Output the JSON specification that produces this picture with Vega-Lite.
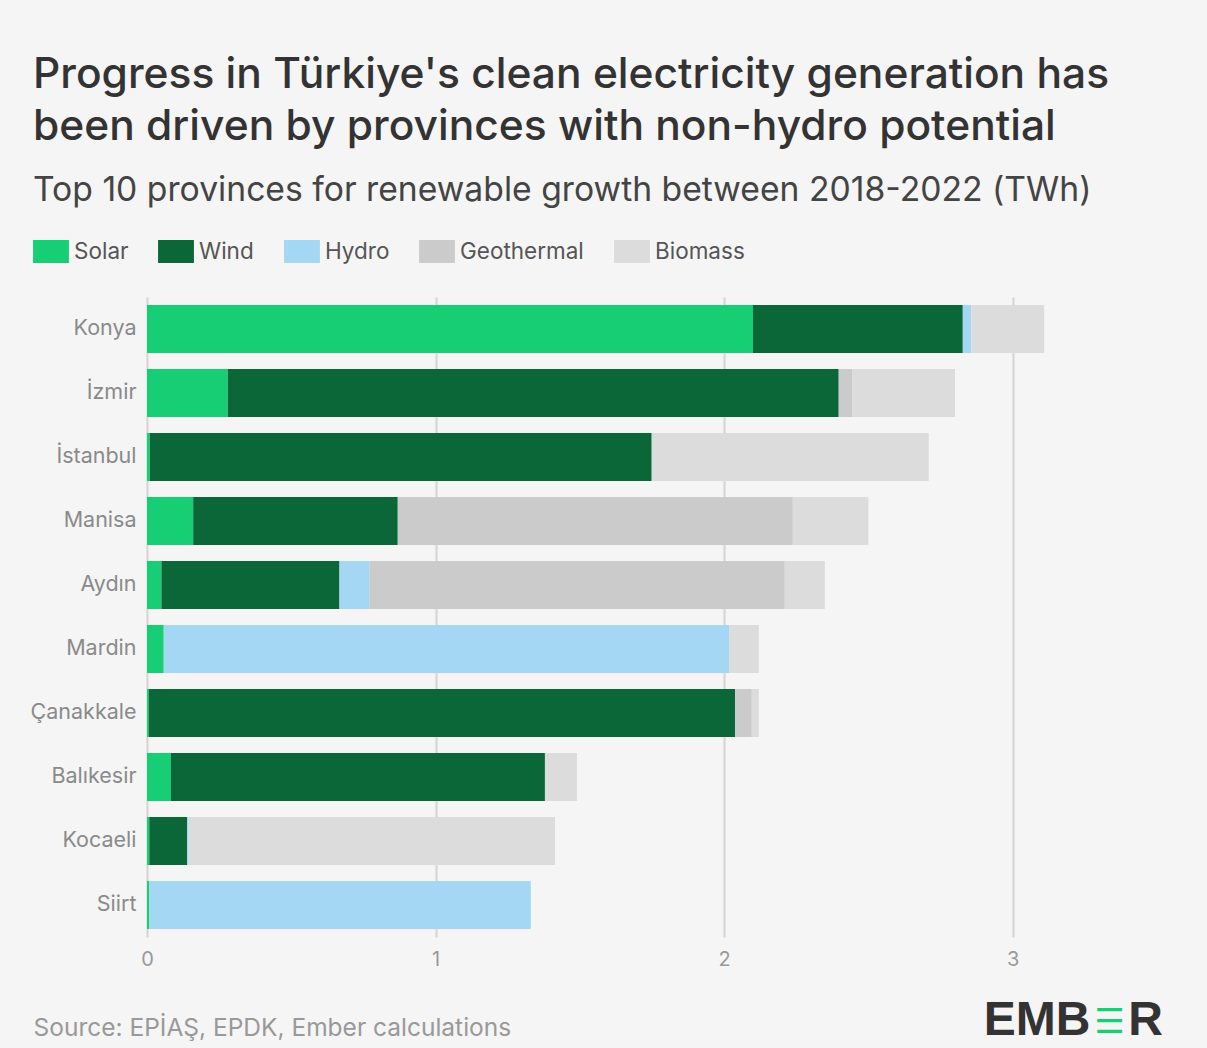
{
  "$schema": "https://vega.github.io/schema/vega-lite/v6.json",
  "width": 1010,
  "height": 640,
  "autosize": {"type": "none"},
  "padding": {"left": 147, "top": 297, "right": 50, "bottom": 111},
  "background": "#f5f5f5",
  "config": {"font": "Inter", "view": {"stroke": null}},
  "title": {
    "text": ["Progress in Türkiye's clean electricity generation has", "been driven by provinces with non-hydro potential"],
    "subtitle": "Top 10 provinces for renewable growth between 2018-2022 (TWh)",
    "anchor": "start",
    "frame": "group",
    "dx": -114,
    "offset": 32,
    "fontSize": 42.5,
    "fontWeight": 500,
    "color": "#333333",
    "lineHeight": 52,
    "subtitleFontSize": 33.7,
    "subtitleColor": "#444444",
    "subtitleFontWeight": 400,
    "subtitlePadding": 26
  },
  "data": {
    "values": [
      {"province": "Konya", "source": "Solar", "k": 1, "twh": 2.10},
      {"province": "Konya", "source": "Wind", "k": 2, "twh": 0.727},
      {"province": "Konya", "source": "Hydro", "k": 3, "twh": 0.029},
      {"province": "Konya", "source": "Biomass", "k": 5, "twh": 0.253},
      {"province": "İzmir", "source": "Solar", "k": 1, "twh": 0.28},
      {"province": "İzmir", "source": "Wind", "k": 2, "twh": 2.117},
      {"province": "İzmir", "source": "Geothermal", "k": 4, "twh": 0.048},
      {"province": "İzmir", "source": "Biomass", "k": 5, "twh": 0.355},
      {"province": "İstanbul", "source": "Solar", "k": 1, "twh": 0.01},
      {"province": "İstanbul", "source": "Wind", "k": 2, "twh": 1.739},
      {"province": "İstanbul", "source": "Biomass", "k": 5, "twh": 0.96},
      {"province": "Manisa", "source": "Solar", "k": 1, "twh": 0.16},
      {"province": "Manisa", "source": "Wind", "k": 2, "twh": 0.709},
      {"province": "Manisa", "source": "Geothermal", "k": 4, "twh": 1.369},
      {"province": "Manisa", "source": "Biomass", "k": 5, "twh": 0.262},
      {"province": "Aydın", "source": "Solar", "k": 1, "twh": 0.05},
      {"province": "Aydın", "source": "Wind", "k": 2, "twh": 0.617},
      {"province": "Aydın", "source": "Hydro", "k": 3, "twh": 0.103},
      {"province": "Aydın", "source": "Geothermal", "k": 4, "twh": 1.44},
      {"province": "Aydın", "source": "Biomass", "k": 5, "twh": 0.139},
      {"province": "Mardin", "source": "Solar", "k": 1, "twh": 0.058},
      {"province": "Mardin", "source": "Hydro", "k": 3, "twh": 1.959},
      {"province": "Mardin", "source": "Biomass", "k": 5, "twh": 0.103},
      {"province": "Çanakkale", "source": "Solar", "k": 1, "twh": 0.006},
      {"province": "Çanakkale", "source": "Wind", "k": 2, "twh": 2.032},
      {"province": "Çanakkale", "source": "Geothermal", "k": 4, "twh": 0.058},
      {"province": "Çanakkale", "source": "Biomass", "k": 5, "twh": 0.024},
      {"province": "Balıkesir", "source": "Solar", "k": 1, "twh": 0.083},
      {"province": "Balıkesir", "source": "Wind", "k": 2, "twh": 1.296},
      {"province": "Balıkesir", "source": "Biomass", "k": 5, "twh": 0.111},
      {"province": "Kocaeli", "source": "Solar", "k": 1, "twh": 0.008},
      {"province": "Kocaeli", "source": "Wind", "k": 2, "twh": 0.131},
      {"province": "Kocaeli", "source": "Hydro", "k": 3, "twh": 0.005},
      {"province": "Kocaeli", "source": "Biomass", "k": 5, "twh": 1.27},
      {"province": "Siirt", "source": "Solar", "k": 1, "twh": 0.008},
      {"province": "Siirt", "source": "Hydro", "k": 3, "twh": 1.322}
    ]
  },
  "layer": [
    {
      "mark": {"type": "bar"},
      "encoding": {
        "y": {
          "field": "province",
          "type": "nominal",
          "sort": ["Konya", "İzmir", "İstanbul", "Manisa", "Aydın", "Mardin", "Çanakkale", "Balıkesir", "Kocaeli", "Siirt"],
          "scale": {"paddingInner": 0.25, "paddingOuter": 0.125},
          "axis": {
            "title": null,
            "ticks": false,
            "domain": false,
            "labelColor": "#8a8a8a",
            "labelFontSize": 21.5,
            "labelPadding": 11
          }
        },
        "x": {
          "field": "twh",
          "type": "quantitative",
          "stack": "zero",
          "scale": {"domain": [0, 3.5], "nice": false},
          "axis": {
            "values": [0, 1, 2, 3],
            "format": "d",
            "labelFlush": false,
            "grid": true,
            "gridColor": "#d4d4d4",
            "gridWidth": 2,
            "ticks": false,
            "domain": false,
            "labelColor": "#999999",
            "labelFontSize": 20,
            "labelPadding": 12,
            "title": "Source: EPİAŞ, EPDK, Ember calculations",
            "titleAnchor": "start",
            "titleAlign": "left",
            "titleBaseline": "alphabetic",
            "titleX": -114,
            "titleY": 98,
            "titleFontSize": 24.5,
            "titleFontWeight": 400,
            "titleColor": "#999999"
          }
        },
        "color": {
          "field": "source",
          "type": "nominal",
          "scale": {
            "domain": ["Solar", "Wind", "Hydro", "Geothermal", "Biomass"],
            "range": ["#17ce75", "#0b6638", "#a4d7f4", "#cbcbcb", "#dcdcdc"]
          },
          "legend": {
            "orient": "none",
            "legendX": -107.5,
            "legendY": -57,
            "direction": "horizontal",
            "title": null,
            "symbolType": "M-1.56,-1H1.56V1H-1.56Z",
            "symbolSize": 529,
            "symbolStrokeWidth": 0,
            "symbolOpacity": 1,
            "labelFontSize": 22.5,
            "labelColor": "#555555",
            "labelOffset": 11.5,
            "columnPadding": 29
          }
        },
        "order": {"field": "k", "type": "quantitative"}
      }
    },
    {
      "data": {"values": [{"brand": "Ember"}]},
      "mark": {"type": "text", "text": "EMB", "align": "left", "baseline": "alphabetic", "font": "Liberation Sans", "fontWeight": "bold", "fontSize": 48, "color": "#333333", "dy": 130},
      "encoding": {"x": {"datum": 2.9}, "y": {"datum": "Siirt"}}
    },
    {
      "data": {"values": [{"brand": "Ember"}]},
      "mark": {"type": "text", "text": "☰", "align": "center", "baseline": "alphabetic", "font": "DejaVu Sans", "fontWeight": "bold", "fontSize": 34, "color": "#17ce75", "dy": 128},
      "encoding": {"x": {"datum": 3.335}, "y": {"datum": "Siirt"}}
    },
    {
      "data": {"values": [{"brand": "Ember"}]},
      "mark": {"type": "text", "text": "R", "align": "left", "baseline": "alphabetic", "font": "Liberation Sans", "fontWeight": "bold", "fontSize": 48, "color": "#333333", "dy": 130},
      "encoding": {"x": {"datum": 3.4}, "y": {"datum": "Siirt"}}
    }
  ]
}
